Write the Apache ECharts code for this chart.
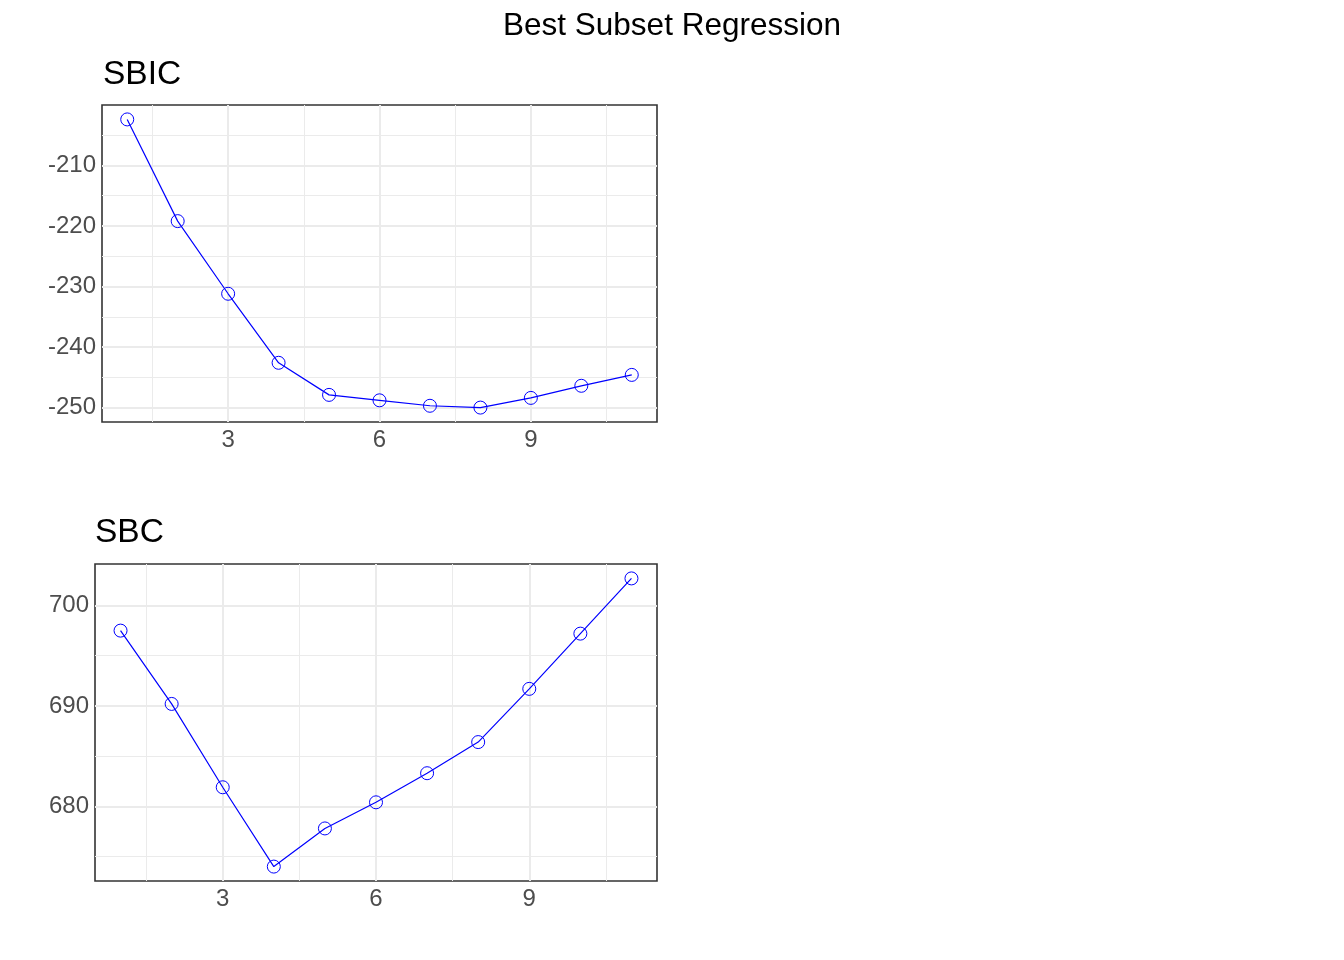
<!DOCTYPE html>
<html>
<head>
<meta charset="utf-8">
<title>Best Subset Regression</title>
<script src="https://cdn.jsdelivr.net/npm/echarts@6/dist/echarts.min.js"></script>
<style>
  html, body { margin: 0; padding: 0; background: #ffffff; }
  #chart { width: 1344px; height: 960px; }
</style>
</head>
<body>
<div id="chart"></div>
<script>
// number of predictors in each subset
const steps = [1, 2, 3, 4, 5, 6, 7, 8, 9, 10, 11];

// criterion values
const sbicValues = [-202.4, -219.2, -231.2, -242.6, -247.9, -248.8, -249.7, -250.0, -248.4, -246.4, -244.6];
const sbcValues = [697.5, 690.2, 681.9, 674.0, 677.8, 680.4, 683.3, 686.4, 691.7, 697.2, 702.7];

// breaks
const xMajor = [3, 6, 9];
const xMinor = [1.5, 4.5, 7.5, 10.5];
const sbicMajor = [-250, -240, -230, -220, -210];
const sbicMinor = [-245, -235, -225, -215, -205];
const sbcMajor = [680, 690, 700];
const sbcMinor = [675, 685, 695];

const FONT = "Arial, 'Liberation Sans', sans-serif";
const GRID_COLOR = "#EBEBEB";

// ggplot style 5% expansion of the data range
function expand(values) {
    const lo = Math.min.apply(null, values);
    const hi = Math.max.apply(null, values);
    const pad = (hi - lo) * 0.05;
    return [lo - pad, hi + pad];
}

function gridLines(axisKey, major, minor) {
    const data = [];
    minor.forEach(v => data.push({ [axisKey]: v, lineStyle: { width: 1, color: GRID_COLOR, type: "solid" } }));
    major.forEach(v => data.push({ [axisKey]: v, lineStyle: { width: 2, color: GRID_COLOR, type: "solid" } }));
    return data;
}

function panel(idx, values, yMajor, yMinor) {
    const xr = expand(steps);
    const yr = expand(values);
    const points = steps.map((s, i) => [s, values[i]]);
    return {
        xAxis: {
            type: "value",
            gridIndex: idx,
            min: xr[0],
            max: xr[1],
            axisLine: { show: false },
            axisTick: { show: false },
            splitLine: { show: false },
            axisLabel: {
                customValues: xMajor,
                color: "#4D4D4D",
                fontSize: 24,
                fontFamily: FONT,
                margin: 6,
            },
        },
        yAxis: {
            type: "value",
            gridIndex: idx,
            min: yr[0],
            max: yr[1],
            axisLine: { show: false },
            axisTick: { show: false },
            splitLine: { show: false },
            axisLabel: {
                customValues: yMajor,
                color: "#4D4D4D",
                fontSize: 24,
                fontFamily: FONT,
                margin: 6,
                padding: [2, 0, 0, 0],
            },
        },
        series: [
            {
                type: "line",
                xAxisIndex: idx,
                yAxisIndex: idx,
                data: points,
                symbol: "none",
                lineStyle: { opacity: 0 },
                silent: true,
                z: 1,
                markLine: {
                    silent: true,
                    symbol: "none",
                    z: 1,
                    label: { show: false },
                    animation: false,
                    data: gridLines("xAxis", xMajor, xMinor).concat(gridLines("yAxis", yMajor, yMinor)),
                },
            },
            {
                type: "line",
                xAxisIndex: idx,
                yAxisIndex: idx,
                data: points,
                symbol: "circle",
                symbolSize: 13,
                showAllSymbol: true,
                z: 3,
                lineStyle: { color: "#0000FF", width: 1.2 },
                itemStyle: { color: "rgba(0,0,0,0)", borderColor: "#0000FF", borderWidth: 1 },
                emphasis: { disabled: true },
            },
        ],
    };
}

const sbicPanel = panel(0, sbicValues, sbicMajor, sbicMinor);
const sbcPanel = panel(1, sbcValues, sbcMajor, sbcMinor);

const chart = echarts.init(document.getElementById("chart"), null, { renderer: "canvas" });

const option = {
    backgroundColor: "#ffffff",
    animation: false,
    title: [
        {
            text: "Best Subset Regression",
            left: "center",
            top: 5,
            textStyle: { fontSize: 31.5, fontWeight: "normal", color: "#000000", fontFamily: FONT },
        },
        {
            text: "SBIC",
            left: 98,
            top: 53,
            textStyle: { fontSize: 33.5, fontWeight: "normal", color: "#000000", fontFamily: FONT },
        },
        {
            text: "SBC",
            left: 90,
            top: 511,
            textStyle: { fontSize: 33.5, fontWeight: "normal", color: "#000000", fontFamily: FONT },
        },
    ],
    grid: [
        { left: 102, right: 687, top: 105, height: 317, show: true, borderColor: "#333333", borderWidth: 1.6, backgroundColor: "#ffffff" },
        { left: 95, right: 687, top: 564, height: 317, show: true, borderColor: "#333333", borderWidth: 1.6, backgroundColor: "#ffffff" },
    ],
    xAxis: [sbicPanel.xAxis, sbcPanel.xAxis],
    yAxis: [sbicPanel.yAxis, sbcPanel.yAxis],
    series: sbicPanel.series.concat(sbcPanel.series),
};

chart.setOption(option);
</script>
</body>
</html>
